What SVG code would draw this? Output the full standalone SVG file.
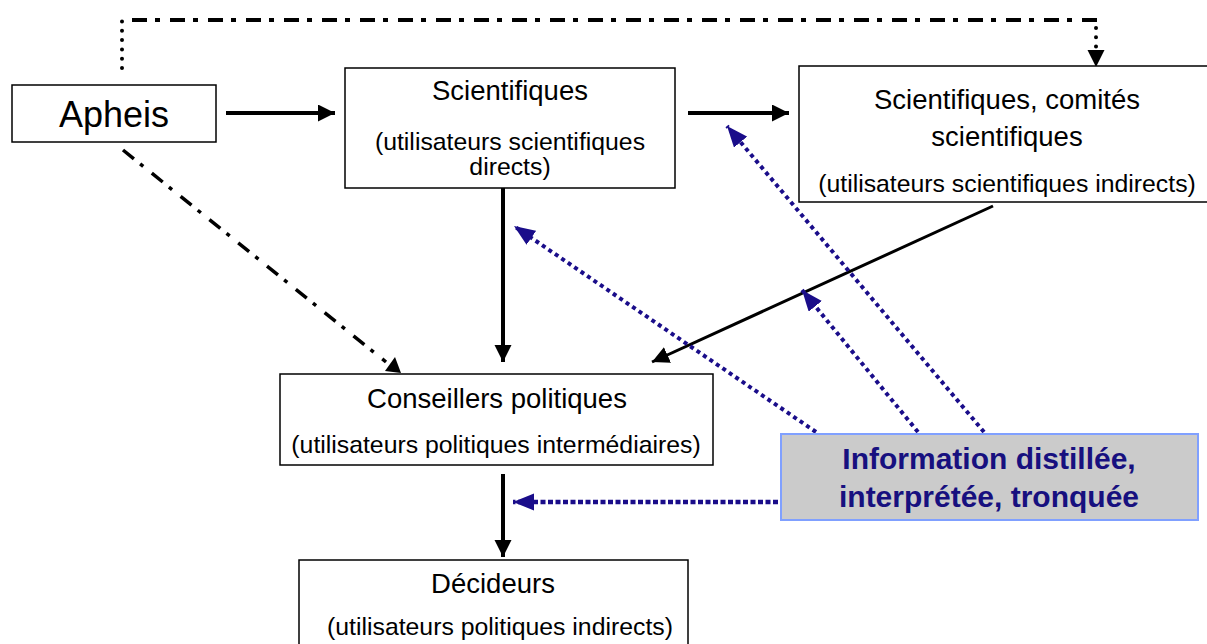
<svg xmlns="http://www.w3.org/2000/svg" width="1207" height="644" viewBox="0 0 1207 644">
<style>
.box{fill:#fff;stroke:#000;stroke-width:1.5}
.t{font-family:"Liberation Sans",Arial,sans-serif;fill:#000;text-anchor:middle}
.ti{font-size:27.5px}
.st{font-size:24.8px}
.solid{fill:none;stroke:#000;stroke-width:4}
.blue{fill:none;stroke:#1a0d8a;stroke-width:4;stroke-dasharray:4 3.8}
.dot{fill:none;stroke:#000;stroke-width:4;stroke-linecap:round;stroke-dasharray:0 9.3}
.dashdot{fill:none;stroke:#000;stroke-width:4;stroke-dasharray:15 8 5 10}
.dashdot2{fill:none;stroke:#000;stroke-width:3.5;stroke-dasharray:14 8 4 11}
.info{font-family:"Liberation Sans",Arial,sans-serif;font-weight:bold;font-size:30px;fill:#17107f;text-anchor:middle}
</style>
<defs>
<marker id="ab" markerUnits="userSpaceOnUse" markerWidth="18" markerHeight="18" refX="17" refY="8.5" orient="auto">
<path d="M0,0 L17,8.5 L0,17 z" fill="#000"/>
</marker>
<marker id="au" markerUnits="userSpaceOnUse" markerWidth="22" markerHeight="18" refX="21" refY="8.5" orient="auto">
<path d="M0,0 L21,8.5 L0,17 z" fill="#1a0d8a"/>
</marker>
</defs>
<g id="connectors">
<path class="dot" d="M122,68 V20"/>
<path class="dashdot" d="M132,20 H1102"/>
<path class="dot" d="M1096,28 V50"/>
<path d="M1087.5,50 L1104.5,50 L1096,67 z" fill="#000"/>
<path class="solid" d="M226,113 H335" marker-end="url(#ab)"/>
<path class="solid" d="M688,113 H789" marker-end="url(#ab)"/>
<path class="solid" d="M503,177 V362" marker-end="url(#ab)"/>
<path class="dashdot2" d="M123,150 L386,362"/>
<path d="M385,371 L401,373 L395,357 z" fill="#000"/>
<path d="M993,206 L652,362" fill="none" stroke="#000" stroke-width="3" marker-end="url(#ab)"/>
<path class="solid" d="M503,474 V557" marker-end="url(#ab)"/>
<path class="blue" d="M816,432 L514,226" marker-end="url(#au)"/>
<path class="blue" d="M918,432 L802,290" marker-end="url(#au)"/>
<path class="blue" d="M984,432 L727,126" marker-end="url(#au)"/>
<path fill="none" stroke="#1a0d8a" stroke-width="4.5" stroke-dasharray="5 2.5" d="M778,502 H513" marker-end="url(#au)"/>
</g>
<g id="apheis">
<rect class="box" x="12" y="85" width="204" height="57"/>
<text class="t" x="114" y="127" font-size="36">Apheis</text>
</g>
<g id="scientifiques">
<rect class="box" x="345" y="68" width="330" height="120"/>
<text class="t ti" x="510" y="100">Scientifiques</text>
<text class="t st" x="510" y="150">(utilisateurs scientifiques</text>
<text class="t st" x="510" y="175">directs)</text>
</g>
<g id="comites">
<rect class="box" x="799" y="66" width="420" height="136"/>
<text class="t ti" x="1007" y="109">Scientifiques,  comités</text>
<text class="t ti" x="1007" y="146">scientifiques</text>
<text class="t st" x="1007" y="192">(utilisateurs scientifiques indirects)</text>
</g>
<g id="conseillers">
<rect class="box" x="280" y="374" width="433" height="91"/>
<text class="t ti" x="497" y="408">Conseillers politiques</text>
<text class="t st" x="496" y="453">(utilisateurs politiques intermédiaires)</text>
</g>
<g id="decideurs">
<rect class="box" x="299" y="560" width="389" height="100"/>
<text class="t ti" x="493" y="593">Décideurs</text>
<text class="t st" x="500" y="635">(utilisateurs politiques indirects)</text>
</g>
<g id="information">
<rect x="781" y="434" width="417" height="86" fill="#cbcbcb" stroke="#80a0ff" stroke-width="2"/>
<text class="info" x="989" y="469">Information distillée,</text>
<text class="info" x="989" y="507">interprétée, tronquée</text>
</g>
</svg>
